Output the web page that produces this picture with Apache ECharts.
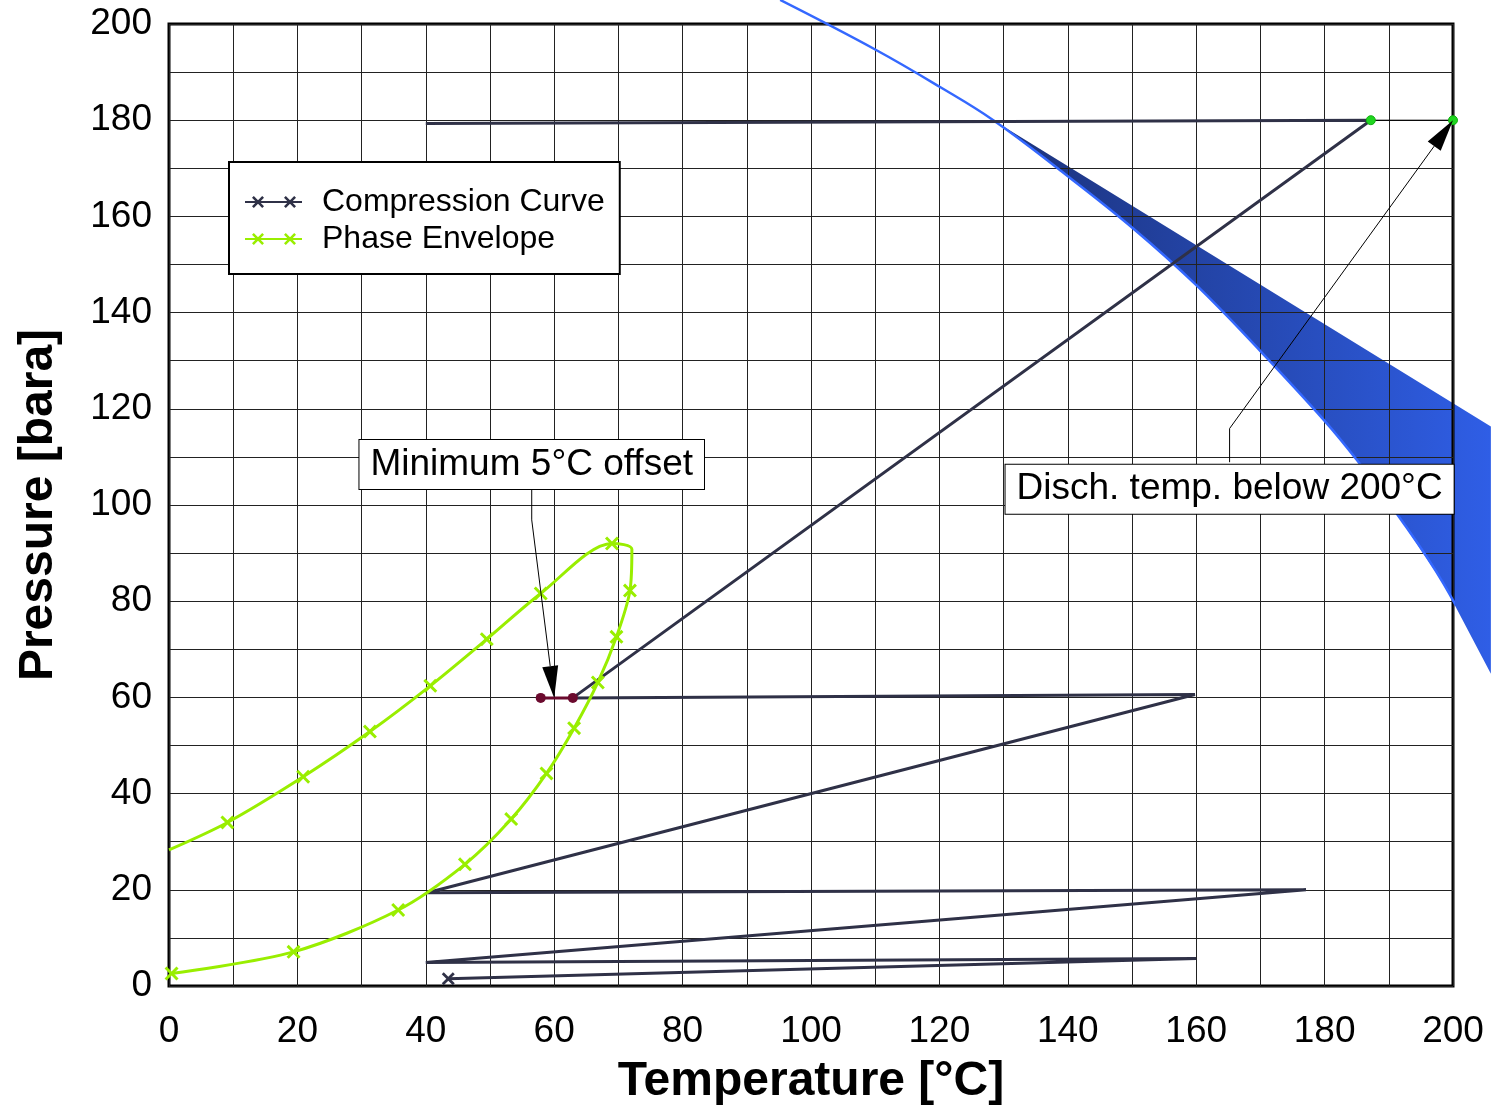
<!DOCTYPE html>
<html>

<head>
    <meta charset="utf-8">
    <title>Compression Curve vs Phase Envelope</title>
    <script src="https://cdn.jsdelivr.net/npm/echarts@6/dist/echarts.min.js"></script>
    <style>
        html, body { margin: 0; padding: 0; background: #fff; }
    </style>
</head>

<body>
    <div id="main" style="width: 1491px;height:1107px;"></div>
    <script type="text/javascript">
        // [temperature degC, pressure bara]
        var compressionCurve = [
            [43.5, 1.5], [160.0, 5.7], [40.0, 4.9], [177.1, 20.0], [40.2, 19.4],
            [159.8, 60.6], [62.9, 59.9], [187.2, 180.0], [40.0, 179.3]
        ];
        var phaseEnvelope = [
            [0.0, 28.3], [9.1, 34.0], [20.9, 43.5], [31.3, 52.9], [40.7, 62.4], [49.5, 72.1],
            [57.9, 81.6], [69.0, 92.0], [72.1, 90.8], [71.8, 82.2], [69.7, 72.6], [66.8, 63.1],
            [63.1, 53.6], [58.8, 44.2], [53.3, 34.7], [46.1, 25.3], [35.7, 15.8], [19.4, 7.1],
            [0.4, 2.6]
        ];
        var minOffset = [[57.9, 59.9], [62.9, 59.9]];
        var dischargeLimit = [[187.2, 180.0], [200.0, 180.0]];
        var limitCurve = [
            [95.2, 205.0], [110.0, 194.7], [120.1, 186.9], [128.4, 180.0], [138.8, 169.6],
            [150.1, 157.6], [160.1, 145.6], [170.0, 132.0], [180.0, 117.5], [185.0, 109.4],
            [191.2, 98.3], [198.5, 83.7], [205.9, 64.9]
        ];
        var bandUpper = [[128.4, 180.0], [205.9, 116.3]];
        var xTicks = [0, 20, 40, 60, 80, 100, 120, 140, 160, 180, 200];
        var yTicks = [0, 20, 40, 60, 80, 100, 120, 140, 160, 180, 200];

        // annotation anchors in data coords: text centre, leader start, elbow, arrow tip
        var notes = [
            { text: 'Minimum 5°C offset', center: [56.5, 108.4], start: [56.5, 103.3], elbow: [56.5, 96.9], tip: [60.0, 59.9] },
            { text: 'Disch. temp. below 200°C', center: [165.2, 103.3], start: [165.2, 108.9], elbow: [165.2, 115.9], tip: [200.0, 180.0] }
        ];

        var FONT = '"Liberation Sans", Arial, Helvetica, sans-serif';
        var crossPath = 'path://M1.5,0 L5,3.5 L8.5,0 L10,1.5 L6.5,5 L10,8.5 L8.5,10 L5,6.5 L1.5,10 L0,8.5 L3.5,5 L0,1.5 Z';
        // legend icon: line with two crosses
        var legendIcon = 'path://M0,5.1 L57,5.1 L57,6.9 L0,6.9 Z ' +
            'M8.8,0 L13,4.2 L17.2,0 L19,1.8 L14.8,6 L19,10.2 L17.2,12 L13,7.8 L8.8,12 L7,10.2 L11.2,6 L7,1.8 Z ' +
            'M40.8,0 L45,4.2 L49.2,0 L51,1.8 L46.8,6 L51,10.2 L49.2,12 L45,7.8 L40.8,12 L39,10.2 L43.2,6 L39,1.8 Z';

        var NAVY = '#2f3147';
        var LIME = '#99ee00';

        var hiddenPhase = [0, 8];

        var myChart = echarts.init(document.getElementById('main'));

        var axisCommon = {
            type: 'value',
            min: 0,
            max: 200,
            interval: 20,
            axisLine: { show: false },
            axisTick: { show: false },
            splitLine: { show: true, lineStyle: { color: '#222', width: 1 } },
            minorTick: { show: false, splitNumber: 2 },
            minorSplitLine: { show: true, lineStyle: { color: '#222', width: 1 } },
            nameLocation: 'middle',
            nameTextStyle: { fontFamily: FONT, fontSize: 48, fontWeight: 'bold', color: '#000' }
        };

        var option = {
            animation: false,
            backgroundColor: '#fff',
            textStyle: { fontFamily: FONT },
            grid: {
                left: 169, top: 24, right: 38, bottom: 121,
                outerBoundsMode: 'none',
                show: true, borderColor: '#000', borderWidth: 3,
                backgroundColor: 'transparent'
            },
            xAxis: Object.assign({}, axisCommon, {
                name: 'Temperature [°C]',
                nameGap: 72,
                axisLabel: {
                    margin: 27, fontSize: 37, color: '#000', fontFamily: FONT,
                    formatter: function (v) { return xTicks.indexOf(v) >= 0 ? String(v) : ''; }
                }
            }),
            yAxis: Object.assign({}, axisCommon, {
                name: 'Pressure [bara]',
                nameGap: 106,
                axisLabel: {
                    margin: 17, fontSize: 37, color: '#000', fontFamily: FONT,
                    formatter: function (v) { return yTicks.indexOf(v) >= 0 ? String(v) : ''; }
                }
            }),
            legend: {
                orient: 'vertical',
                left: 229,
                top: 162,
                padding: [24, 15, 19, 16],
                itemGap: 5,
                itemWidth: 57,
                itemHeight: 12,
                backgroundColor: '#fff',
                borderColor: '#000',
                borderWidth: 2,
                borderRadius: 0,
                textStyle: { fontFamily: FONT, fontSize: 32, color: '#000', lineHeight: 32, padding: [0, 0, 0, 15] },
                data: [
                    { name: 'Compression Curve', icon: legendIcon, itemStyle: { color: NAVY, borderWidth: 0 } },
                    { name: 'Phase Envelope', icon: legendIcon, itemStyle: { color: LIME, borderWidth: 0 } }
                ],
                selectedMode: false
            },
            series: [
                {
                    name: 'band',
                    type: 'custom',
                    z: -1,
                    silent: true,
                    clip: false,
                    data: [0],
                    renderItem: function (params, api) {
                        var pts = bandUpper.map(function (p) { return api.coord(p); });
                        var lower = limitCurve.filter(function (p) { return p[0] >= bandUpper[0][0]; }).reverse();
                        lower.forEach(function (p) { pts.push(api.coord(p)); });
                        var x0 = api.coord(bandUpper[0])[0];
                        var x1 = api.coord(bandUpper[1])[0];
                        return {
                            type: 'polygon',
                            shape: { points: pts, smooth: 0 },
                            style: {
                                fill: new echarts.graphic.LinearGradient(x0, 0, x1, 0, [
                                    { offset: 0, color: '#1b3178' },
                                    { offset: 1, color: '#2f5ee6' }
                                ], true)
                            }
                        };
                    }
                },
                {
                    name: 'limit',
                    type: 'line',
                    data: limitCurve,
                    smooth: 0.4,
                    clip: false,
                    showSymbol: false,
                    symbol: 'none',
                    lineStyle: { color: '#3468ff', width: 2.5 },
                    silent: true
                },
                {
                    name: 'Compression Curve',
                    type: 'line',
                    data: compressionCurve,
                    color: NAVY,
                    symbol: crossPath,
                    symbolSize: function (v, p) { return p.dataIndex === 0 ? 13 : 0; },
                    itemStyle: { color: NAVY, borderWidth: 0 },
                    lineStyle: { color: NAVY, width: 3 },
                    silent: true
                },
                {
                    name: 'Phase Envelope',
                    type: 'line',
                    data: phaseEnvelope,
                    color: LIME,
                    smooth: 0.3,
                    symbol: crossPath,
                    symbolSize: function (v, p) { return hiddenPhase.indexOf(p.dataIndex) >= 0 ? 0 : 14; },
                    itemStyle: { color: LIME, borderWidth: 0 },
                    lineStyle: { color: LIME, width: 3 },
                    silent: true
                },
                {
                    name: 'offset',
                    type: 'line',
                    data: minOffset,
                    symbol: 'circle',
                    symbolSize: 10,
                    itemStyle: { color: '#6b0a2e', borderWidth: 0 },
                    lineStyle: { color: '#6b0a2e', width: 3 },
                    silent: true
                },
                {
                    name: 'discharge',
                    type: 'line',
                    data: dischargeLimit,
                    clip: false,
                    symbol: 'circle',
                    symbolSize: 9,
                    itemStyle: { color: '#1fd51f', borderColor: '#11b011', borderWidth: 1 },
                    lineStyle: { color: '#000', width: 1 },
                    silent: true
                }
            ]
        };

        myChart.setOption(option);

        // annotation boxes and arrows placed from data anchors
        var graphics = [];
        notes.forEach(function (n) {
            var c = myChart.convertToPixel({ gridIndex: 0 }, n.center);
            var s = myChart.convertToPixel({ gridIndex: 0 }, n.start);
            var e = myChart.convertToPixel({ gridIndex: 0 }, n.elbow);
            var t = myChart.convertToPixel({ gridIndex: 0 }, n.tip);
            var dx = t[0] - e[0], dy = t[1] - e[1];
            var len = Math.sqrt(dx * dx + dy * dy);
            var ux = dx / len, uy = dy / len;
            var headLen = 32, headHalf = 8;
            var bx = t[0] - ux * headLen, by = t[1] - uy * headLen;
            graphics.push({
                type: 'polyline',
                z: 100,
                shape: { points: [s, e, [bx, by]] },
                style: { stroke: '#000', lineWidth: 1, fill: null }
            });
            graphics.push({
                type: 'polygon',
                z: 100,
                shape: { points: [t, [bx - uy * headHalf, by + ux * headHalf], [bx + uy * headHalf, by - ux * headHalf]] },
                style: { fill: '#000' }
            });
            graphics.push({
                type: 'text',
                z: 101,
                x: c[0],
                y: c[1],
                style: {
                    text: n.text,
                    font: '37px ' + FONT,
                    fill: '#000',
                    align: 'center',
                    verticalAlign: 'middle',
                    backgroundColor: '#fff',
                    borderColor: '#000',
                    borderWidth: 1,
                    padding: [6, 11, 6, 11]
                }
            });
        });
        myChart.setOption({ graphic: graphics });
    </script>
</body>

</html>
